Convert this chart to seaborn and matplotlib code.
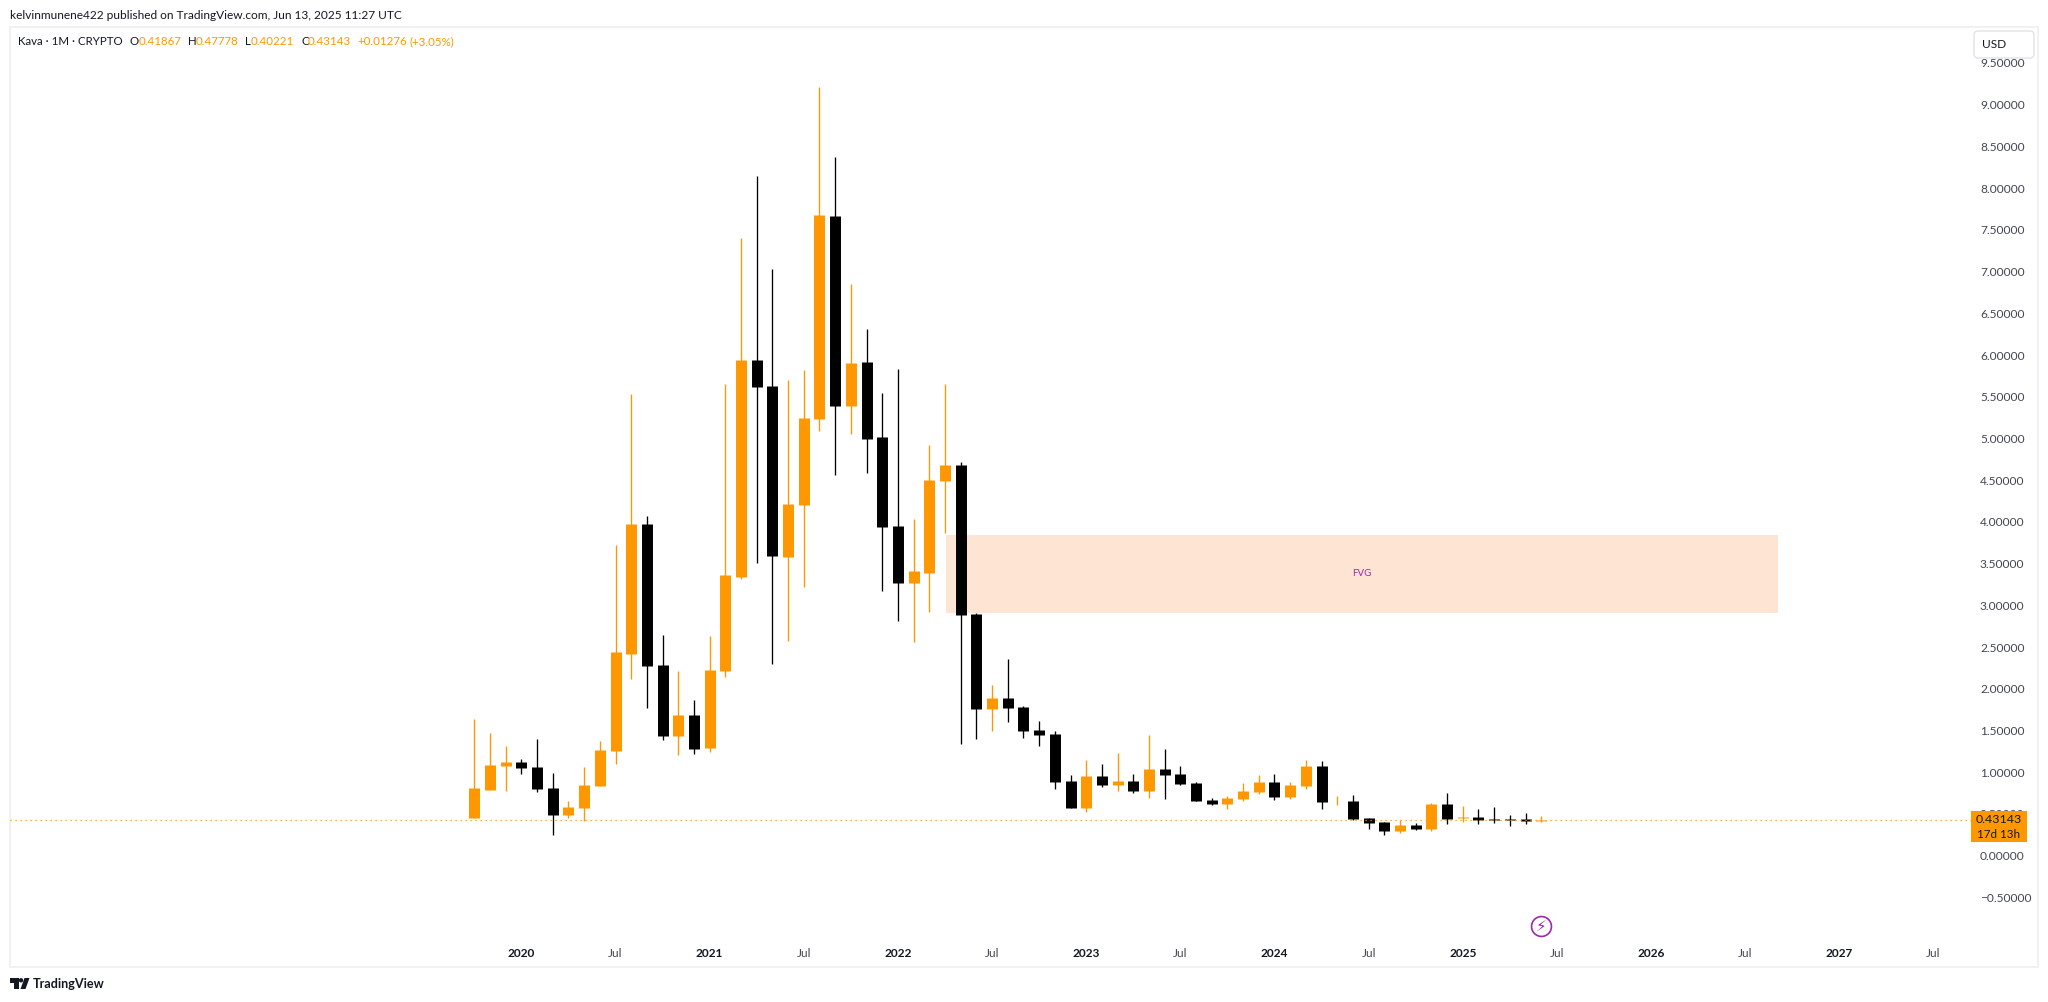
import matplotlib
matplotlib.use('Agg')
import matplotlib.pyplot as plt
import numpy as np
import pandas as pd
import seaborn as sns
from matplotlib.patches import Circle, FancyBboxPatch, Polygon, Rectangle
from matplotlib.transforms import IdentityTransform

# velas mensais, a partir de out/2019
opens = [0.447, 0.786, 1.077, 1.125, 1.065, 0.810, 0.484, 0.568, 0.834, 1.252,
         2.420, 3.969, 2.287, 1.434, 1.688, 1.288, 2.214, 3.345, 5.935, 5.626,
         3.581, 4.198, 5.239, 7.665, 5.384, 5.911, 5.015, 3.956, 3.273, 3.393,
         4.496, 4.676, 2.900, 1.759, 1.891, 1.780, 1.505, 1.458, 0.892, 0.570,
         0.952, 0.845, 0.892, 0.772, 1.038, 0.978, 0.870, 0.664, 0.617, 0.677,
         0.759, 0.879, 0.699, 0.837, 1.077, 0.650, 0.657, 0.453, 0.405, 0.297,
         0.369, 0.321, 0.621, 0.453, 0.465, 0.441, 0.441, 0.441, 0.41867]
highs = [1.639, 1.470, 1.312, 1.155, 1.397, 0.992, 0.653, 1.065, 1.373, 3.727,
         5.530, 4.065, 2.650, 2.214, 1.869, 2.638, 5.651, 7.405, 8.149, 7.030,
         5.699, 5.820, 9.214, 8.373, 6.848, 6.310, 5.542, 5.832, 4.029, 4.916,
         5.650, 4.723, 2.913, 2.046, 2.359, 1.793, 1.613, 1.492, 0.965, 1.145,
         1.098, 1.231, 0.978, 1.445, 1.278, 1.072, 0.879, 0.690, 0.712, 0.870,
         0.965, 0.978, 0.879, 1.149, 1.137, 0.717, 0.729, 0.453, 0.405, 0.429,
         0.389, 0.633, 0.753, 0.597, 0.561, 0.585, 0.489, 0.513, 0.47778]
lows = [0.447, 0.786, 0.774, 0.974, 0.762, 0.248, 0.447, 0.411, 0.834, 1.101,
        2.117, 1.772, 1.385, 1.204, 1.216, 1.240, 2.141, 3.321, 3.509, 2.299,
        2.577, 3.224, 5.094, 4.568, 5.052, 4.580, 3.176, 2.813, 2.565, 2.921,
        3.861, 1.338, 1.398, 1.492, 1.600, 1.411, 1.312, 0.797, 0.570, 0.519,
        0.819, 0.772, 0.750, 0.690, 0.677, 0.845, 0.652, 0.604, 0.557, 0.652,
        0.737, 0.664, 0.677, 0.801, 0.561, 0.609, 0.429, 0.321, 0.249, 0.273,
        0.309, 0.297, 0.381, 0.405, 0.381, 0.393, 0.357, 0.381, 0.40221]
closes = [0.810, 1.089, 1.125, 1.052, 0.798, 0.484, 0.581, 0.847, 1.264, 2.444,
          3.969, 2.275, 1.434, 1.688, 1.276, 2.226, 3.358, 5.935, 5.614, 3.593,
          4.211, 5.251, 7.677, 5.384, 5.899, 4.991, 3.944, 3.273, 3.406, 4.507,
          4.676, 2.887, 1.759, 1.891, 1.771, 1.492, 1.445, 0.879, 0.570, 0.952,
          0.845, 0.892, 0.772, 1.038, 0.965, 0.858, 0.652, 0.617, 0.690, 0.772,
          0.879, 0.699, 0.845, 1.077, 0.645, 0.657, 0.441, 0.393, 0.297, 0.369,
          0.321, 0.621, 0.441, 0.465, 0.429, 0.429, 0.429, 0.417, 0.43143]

last_price = 0.43143
fvg_low = 2.912
fvg_high = 3.848
fvg_start = 30.06
fvg_end = 83.06

x_tick_bars = [3, 9, 15, 21, 27, 33, 39, 45, 51, 57, 63, 69, 75, 81, 87, 93]
x_tick_labels = ['2020', 'Jul', '2021', 'Jul', '2022', 'Jul', '2023', 'Jul',
                 '2024', 'Jul', '2025', 'Jul', '2026', 'Jul', '2027', 'Jul']
y_tick_values = np.arange(-0.5, 9.51, 0.5)

ORANGE = '#FF9800'
BLACK = '#000000'
TEXT = '#131722'
AXIS_TEXT = '#434651'
BORDER = '#F1F1F1'
PURPLE = '#9C27B0'

sns.set_theme(style='white')
plt.rcParams['font.family'] = ['Lato', 'DejaVu Sans']

W, H = 2048, 1002
fig = plt.figure(figsize=(W / 100, H / 100), dpi=100, facecolor='white')

# area do painel em pixels
left, right, top, bottom = 10.2, 2038.3, 27.0, 966.8
ax = fig.add_axes([left / W, 1 - bottom / H, (right - left) / W, (bottom - top) / H])
bar_px, bar_0 = 15.69, 474.3
unit_px, zero_y = 83.45, 855.7
ax.set_xlim((left - bar_0) / bar_px, (right - bar_0) / bar_px)
ax.set_ylim((zero_y - bottom) / unit_px, (zero_y - top) / unit_px)

df = pd.DataFrame({'bar': range(len(opens)), 'open': opens, 'high': highs,
                   'low': lows, 'close': closes})
df['side'] = np.where(df['close'] >= df['open'], 'up', 'down')
palette = {'up': ORANGE, 'down': BLACK}

wicks = df.melt(id_vars=['bar', 'side'], value_vars=['low', 'high'], value_name='price')
bodies = df.melt(id_vars=['bar', 'side'], value_vars=['open', 'close'], value_name='price')

ax.add_patch(Rectangle((fvg_start, fvg_low), fvg_end - fvg_start, fvg_high - fvg_low,
                       facecolor='#FDE4D3', edgecolor='none', zorder=1))
ax.text((fvg_start + fvg_end) / 2, (fvg_low + fvg_high) / 2, 'FVG', color=PURPLE,
        fontsize=7, ha='center', va='center', zorder=2)

sns.lineplot(data=wicks, x='bar', y='price', hue='side', units='bar', estimator=None,
             palette=palette, linewidth=0.95, solid_capstyle='butt', legend=False,
             ax=ax, zorder=3)
sns.lineplot(data=bodies, x='bar', y='price', hue='side', units='bar', estimator=None,
             palette=palette, linewidth=7.9, solid_capstyle='butt', legend=False,
             ax=ax, zorder=3.1)

# linha do ultimo preco
ax.plot([ax.get_xlim()[0], (1971 - bar_0) / bar_px], [last_price, last_price],
        color=ORANGE, linewidth=0.9, linestyle=(0, (1, 3)), zorder=4)

# eixos
ax.set_xlabel('')
ax.set_ylabel('')
ax.yaxis.tick_right()
ax.set_yticks(y_tick_values)
ax.set_yticklabels([f'{v:.5f}'.replace('-', '\u2212') for v in y_tick_values],
                   ha='left', color=AXIS_TEXT, fontsize=8.6)
ax.tick_params(axis='y', length=0, pad=-42)
ax.set_xticks(x_tick_bars)
ax.set_xticklabels(x_tick_labels, color=AXIS_TEXT, fontsize=8.6)
for lab in ax.get_xticklabels():
    if lab.get_text() != 'Jul':
        lab.set_fontweight('bold')
        lab.set_color(TEXT)
ax.tick_params(axis='x', length=0, pad=-13.3)
for sp in ax.spines.values():
    sp.set_visible(True)
    sp.set_color(BORDER)
    sp.set_linewidth(1.4)

# etiqueta do preco atual (cobre o 0.50000)
px = IdentityTransform()
ax.add_patch(Rectangle((1971, H - 841.7), 56, 30.7, transform=px, facecolor=ORANGE,
                       edgecolor='none', zorder=6, clip_on=False))
fig.text(1999 / W, 1 - 819.5 / H, '0.43143', color=TEXT, fontsize=8.9, ha='center', va='center', zorder=7)
fig.text(1999 / W, 1 - 834 / H, '17d 13h', color=TEXT, fontsize=8.4, ha='center', va='center', zorder=7)

# icone de evento
ax.scatter([68], [(zero_y - 926) / unit_px], s=205, facecolor='white', edgecolor=PURPLE,
           linewidth=1.2, zorder=5)
ax.text(68, (zero_y - 926) / unit_px, '\u26a1', color=PURPLE, fontsize=11, ha='center', va='center',
        family='DejaVu Sans', zorder=6)

# caixa USD
fig.add_artist(FancyBboxPatch((1974, H - 58), 60, 27, boxstyle='round,pad=0,rounding_size=4',
                              transform=px, facecolor='white', edgecolor='#E0E3EB', linewidth=1))
fig.text(1982 / W, 1 - 44.5 / H, 'USD', color=TEXT, fontsize=8.6, ha='left', va='center')

# textos do topo
fig.text(10 / W, 1 - 15.5 / H, 'kelvinmunene422 published on TradingView.com, Jun 13, 2025 11:27 UTC',
         color=TEXT, fontsize=8.6, ha='left', va='center')
legend_parts = [(18, 'Kava \u00b7 1M \u00b7 CRYPTO', TEXT), (130, 'O', TEXT), (139, '0.41867', ORANGE),
                (188, 'H', TEXT), (196, '0.47778', ORANGE), (245, 'L', TEXT), (251, '0.40221', ORANGE),
                (301, 'C', TEXT), (308, '0.43143', ORANGE), (357, '+0.01276', ORANGE),
                (410, '(+3.05%)', ORANGE)]
for x0, txt, col in legend_parts:
    fig.text(x0 / W, 1 - 41.5 / H, txt, color=col, fontsize=8.3, ha='left', va='center')

# logo
logo = '#131722'
fig.add_artist(Polygon([(10, H - 978), (18.5, H - 978), (18.5, H - 989), (14, H - 989),
                        (14, H - 983), (10, H - 983)], closed=True, transform=px,
                       facecolor=logo, edgecolor='none'))
fig.add_artist(Circle((21, H - 980.3), 2.2, transform=px, facecolor=logo, edgecolor='none'))
fig.add_artist(Polygon([(24.5, H - 978), (29.5, H - 978), (25.5, H - 989), (20.5, H - 989)],
                       closed=True, transform=px, facecolor=logo, edgecolor='none'))
fig.text(33 / W, 1 - 983.5 / H, 'TradingView', color=logo, fontsize=9.1, fontweight='bold',
         ha='left', va='center')

fig.savefig('out.png', dpi=100, facecolor='white')
